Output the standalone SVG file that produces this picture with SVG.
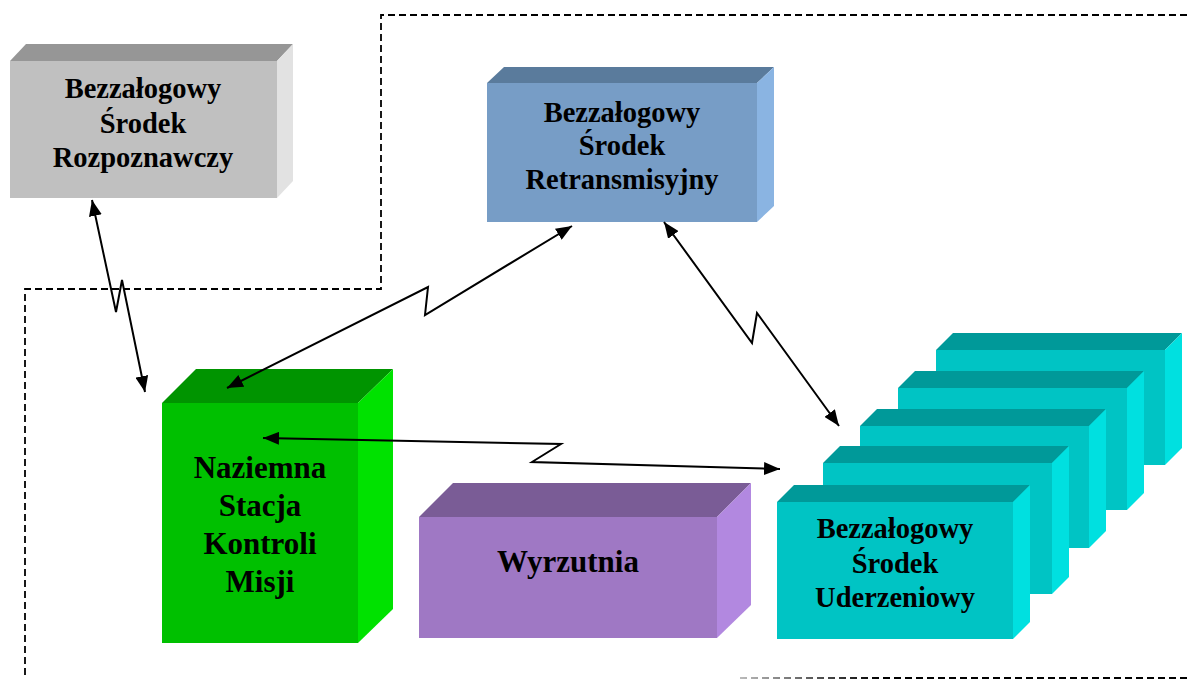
<svg xmlns="http://www.w3.org/2000/svg" width="1187" height="679" viewBox="0 0 1187 679">
<style>
.t{font-family:"Liberation Serif","Times New Roman",serif;font-weight:bold;fill:#000;text-anchor:middle}
.s{font-size:28.5px}
.l{font-size:31px}
.dash{fill:none;stroke:#000;stroke-width:1.8;stroke-dasharray:7,4}
.con{fill:none;stroke:#000;stroke-width:2;stroke-linejoin:miter;marker-start:url(#ah);marker-end:url(#ah)}
</style>
<defs>
<marker id="ah" viewBox="0 0 16 13" refX="16" refY="6.5" markerWidth="16" markerHeight="13" markerUnits="userSpaceOnUse" orient="auto-start-reverse">
<path d="M0,0 L16,6.5 L0,13 z" fill="#000"/>
</marker>
<linearGradient id="fade" gradientUnits="userSpaceOnUse" x1="740" y1="0" x2="880" y2="0">
<stop offset="0" stop-color="#bbb"/>
<stop offset="1" stop-color="#000"/>
</linearGradient>
</defs>
<rect width="1187" height="679" fill="#fff"/>
<g id="boundary">
<path class="dash" d="M1187,15 L381,15 L381,289 L25,289 L25,679"/>
<path class="dash" d="M740,678 L1187,678" style="stroke:url(#fade)"/>
</g>
<g id="node-rozpoznawczy">
<rect x="10" y="61" width="267" height="137" fill="#c0c0c0"/>
<polygon points="10,61 26,44 293,44 277,61" fill="#969696"/>
<polygon points="277,61 293,44 293,181 277,198" fill="#e2e2e2"/>
<text class="t s" x="143" y="98">Bezzałogowy</text>
<text class="t s" x="143" y="133">Środek</text>
<text class="t s" x="143" y="167">Rozpoznawczy</text>
</g>
<g id="node-retransmisyjny">
<rect x="487" y="83" width="270" height="139" fill="#779dc6"/>
<polygon points="487,83 504,67 774,67 757,83" fill="#5a7b9c"/>
<polygon points="757,83 774,67 774,206 757,222" fill="#8ab4e2"/>
<text class="t s" x="622" y="122">Bezzałogowy</text>
<text class="t s" x="622" y="155">Środek</text>
<text class="t s" x="622" y="189">Retransmisyjny</text>
</g>
<g id="node-stacja">
<rect x="162" y="403" width="196" height="240" fill="#00c000"/>
<polygon points="162,403 196,369 393,369 358,403" fill="#009400"/>
<polygon points="358,403 393,369 393,609 358,643" fill="#00e200"/>
<text class="t l" x="260" y="478">Naziemna</text>
<text class="t l" x="260" y="516">Stacja</text>
<text class="t l" x="260" y="554">Kontroli</text>
<text class="t l" x="260" y="592">Misji</text>
</g>
<g id="node-wyrzutnia">
<rect x="419" y="517" width="298" height="121" fill="#9f78c4"/>
<polygon points="419,517 453,483 751,483 717,517" fill="#7a5c96"/>
<polygon points="717,517 751,483 751,605 717,638" fill="#b288e0"/>
<text class="t l" x="568" y="572">Wyrzutnia</text>
</g>
<g id="node-uderzeniowy">
<g>
<rect x="936" y="350" width="229" height="115" fill="#00c4c4"/>
<polygon points="936,350 953,333 1182,333 1165,350" fill="#009999"/>
<polygon points="1165,350 1182,333 1182,448 1165,465" fill="#00e0e0"/>
</g>
<g>
<rect x="898" y="388" width="229" height="122" fill="#00c4c4"/>
<polygon points="898,388 915,371 1144,371 1127,388" fill="#009999"/>
<polygon points="1127,388 1144,371 1144,493 1127,510" fill="#00e0e0"/>
</g>
<g>
<rect x="860" y="426" width="229" height="122" fill="#00c4c4"/>
<polygon points="860,426 877,409 1106,409 1089,426" fill="#009999"/>
<polygon points="1089,426 1106,409 1106,531 1089,548" fill="#00e0e0"/>
</g>
<g>
<rect x="823" y="463" width="229" height="131" fill="#00c4c4"/>
<polygon points="823,463 840,446 1069,446 1052,463" fill="#009999"/>
<polygon points="1052,463 1069,446 1069,577 1052,594" fill="#00e0e0"/>
</g>
<g>
<rect x="777" y="502" width="236" height="137" fill="#00c4c4"/>
<polygon points="777,502 794,485 1030,485 1013,502" fill="#009999"/>
<polygon points="1013,502 1030,485 1030,622 1013,639" fill="#00e0e0"/>
</g>
<text class="t s" x="895" y="538">Bezzałogowy</text>
<text class="t s" x="895" y="573">Środek</text>
<text class="t s" x="895" y="607">Uderzeniowy</text>
</g>
<g id="connectors">
<path class="con" d="M92,200 L116,312 L122,280 L145,392"/>
<path class="con" d="M227,388 L428,287 L425,315 L572,226"/>
<path class="con" d="M664,222 L752,343 L757,313 L839,426"/>
<path class="con" d="M263,438 L561,444 L532,462 L780,469"/>
</g>
</svg>
